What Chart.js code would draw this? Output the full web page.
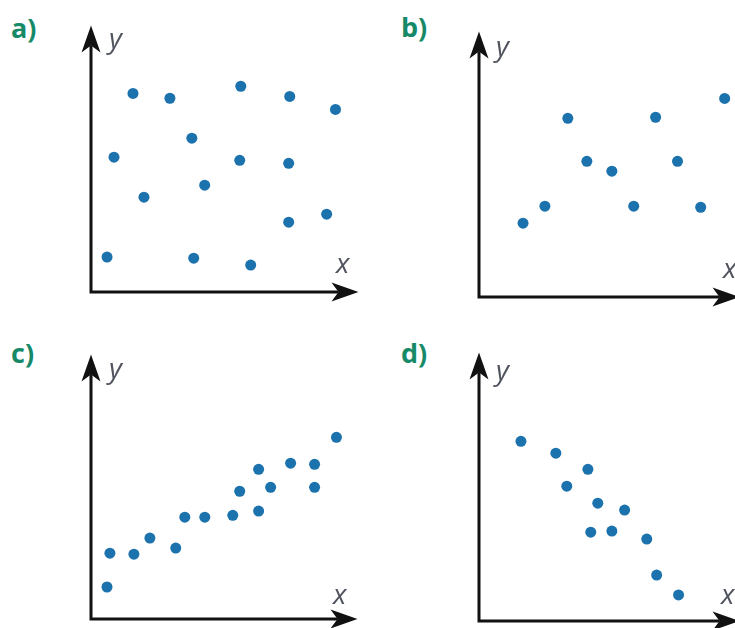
<!DOCTYPE html>
<html>
<head>
<meta charset="utf-8">
<title>Streudiagramme a-d</title>
<script src="https://cdn.jsdelivr.net/npm/chart.js@4.4.1/dist/chart.umd.min.js"></script>
<style>
  html, body { margin: 0; padding: 0; background: #fff; overflow: hidden; }
  #stage { position: relative; width: 735px; height: 628px; overflow: hidden; }
  canvas { position: absolute; }
  .tag { position: absolute; font-family: "Open Sans", sans-serif; font-weight: 700; font-size: 27px; line-height: 1; color: #168a68; }
  .ax { position: absolute; font-family: "Open Sans", sans-serif; font-style: italic; font-size: 28px; line-height: 1; color: #50545e; }
</style>
</head>
<body>
<div id="stage">
  <canvas id="chartA"></canvas>
  <canvas id="chartB"></canvas>
  <canvas id="chartC"></canvas>
  <canvas id="chartD"></canvas>

  <span class="tag" style="left:11px; top:14px">a)</span>
  <span class="tag" style="left:401px; top:13px">b)</span>
  <span class="tag" style="left:11px; top:339px">c)</span>
  <span class="tag" style="left:401px; top:339px">d)</span>

  <span class="ax" style="left:109px; top:23px">y</span>
  <span class="ax" style="left:336px; top:248px">x</span>
  <span class="ax" style="left:496px; top:31px">y</span>
  <span class="ax" style="left:723px; top:253px">x</span>
  <span class="ax" style="left:109px; top:353px">y</span>
  <span class="ax" style="left:333px; top:579px">x</span>
  <span class="ax" style="left:496px; top:355px">y</span>
  <span class="ax" style="left:721px; top:579px">x</span>
</div>

<script>
// Werte auf einer Skala 0..10 (Achsenlänge bis zur Pfeilspitze = 10)

// a) kein Zusammenhang
const aX = [1.57, 2.95, 5.60, 7.43, 9.14, 3.77, 0.86, 5.56, 7.39, 4.25, 1.98, 7.39, 8.81, 0.60, 3.84, 5.97];
const aY = [7.45, 7.27, 7.72, 7.34, 6.85, 5.77, 5.06, 4.94, 4.83, 4.01, 3.56, 2.62, 2.92, 1.31, 1.27, 1.01];

// b) Zickzack
const bX = [1.69, 2.53, 3.41, 4.14, 5.10, 5.94, 6.78, 7.62, 8.51, 9.43];
const bY = [2.78, 3.42, 6.73, 5.11, 4.74, 3.42, 6.77, 5.11, 3.38, 7.48];

// c) positiver Zusammenhang
const cX = [0.60, 0.71, 1.61, 2.21, 3.18, 3.52, 4.27, 5.32, 5.58, 6.29, 6.29, 6.74, 7.49, 8.39, 8.39, 9.21];
const cY = [1.21, 2.49, 2.45, 3.06, 2.68, 3.85, 3.85, 3.92, 4.83, 4.08, 5.66, 4.98, 5.89, 5.85, 4.98, 6.87];

// d) negativer Zusammenhang
const dX = [1.61, 2.95, 4.18, 3.37, 4.56, 5.59, 4.29, 5.10, 6.44, 6.82, 7.66];
const dY = [6.69, 6.25, 5.65, 5.02, 4.39, 4.13, 3.31, 3.35, 3.05, 1.71, 0.97];

const axisMax = 10;

// Lage der Achsen im Bild: Ursprung (ox, oy), Pfeilspitzen xTip / yTip
const panels = [
  { id: 'chartA', xs: aX, ys: aY, ox: 91,  oy: 292, xTip: 359, yTip: 25 },
  { id: 'chartB', xs: bX, ys: bY, ox: 479, oy: 297, xTip: 740, yTip: 31 },
  { id: 'chartC', xs: cX, ys: cY, ox: 91,  oy: 619, xTip: 358, yTip: 354 },
  { id: 'chartD', xs: dX, ys: dY, ox: 479, oy: 621, xTip: 740, yTip: 352 }
];

const pad = { left: 15, top: 5, right: 5, bottom: 15 };

function arrowHead(ctx, tx, ty, dx, dy) {
    const len = 27, half = 9.5, notch = 7;
    const px = -dy, py = dx; // senkrecht zur Richtung
    ctx.beginPath();
    ctx.moveTo(tx, ty);
    ctx.lineTo(tx - dx * len + px * half, ty - dy * len + py * half);
    ctx.lineTo(tx - dx * (len - notch), ty - dy * (len - notch));
    ctx.lineTo(tx - dx * len - px * half, ty - dy * len - py * half);
    ctx.closePath();
    ctx.fill();
}

// Achsen mit Pfeilen, am chartArea ausgerichtet
const arrowAxes = {
    id: 'arrowAxes',
    afterDatasetsDraw(chart) {
        const { ctx, chartArea } = chart;
        const { left, top, right, bottom } = chartArea;
        ctx.save();
        ctx.strokeStyle = '#111';
        ctx.fillStyle = '#111';
        ctx.lineWidth = 3;
        ctx.lineJoin = 'miter';
        ctx.beginPath();
        ctx.moveTo(left, top + 20);
        ctx.lineTo(left, bottom);
        ctx.lineTo(right - 20, bottom);
        ctx.stroke();
        arrowHead(ctx, left, top, 0, -1);
        arrowHead(ctx, right, bottom, 1, 0);
        ctx.restore();
    }
};

panels.forEach(p => {
    const canvas = document.getElementById(p.id);
    const w = p.xTip + pad.right - (p.ox - pad.left);
    const h = p.oy + pad.bottom - (p.yTip - pad.top);
    canvas.width = w;
    canvas.height = h;
    canvas.style.left = (p.ox - pad.left) + 'px';
    canvas.style.top = (p.yTip - pad.top) + 'px';
    canvas.style.width = w + 'px';
    canvas.style.height = h + 'px';

    new Chart(canvas.getContext('2d'), {
        type: 'scatter',
        data: {
            datasets: [{
                data: p.xs.map((x, i) => ({ x: x, y: p.ys[i] })),
                backgroundColor: '#1b72ad',
                borderWidth: 0,
                pointRadius: 5.5,
                pointHoverRadius: 5.5
            }]
        },
        options: {
            responsive: false,
            animation: false,
            events: [],
            layout: { padding: pad },
            plugins: { legend: { display: false }, tooltip: { enabled: false } },
            scales: {
                x: { type: 'linear', min: 0, max: axisMax, display: false },
                y: { type: 'linear', min: 0, max: axisMax, display: false }
            }
        },
        plugins: [arrowAxes]
    });
});
</script>
</body>
</html>
